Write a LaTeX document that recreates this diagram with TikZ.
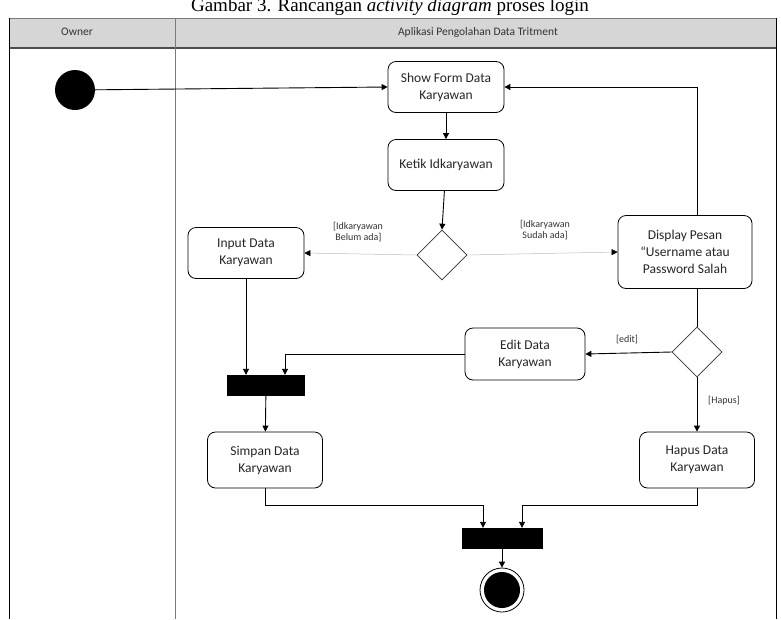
\documentclass[tikz,border=0pt]{standalone}
\usepackage{fontspec}
\setmainfont{Carlito}
\newfontfamily\titlefont{Liberation Serif}
\usetikzlibrary{shapes.geometric,arrows.meta}
\definecolor{headgray}{HTML}{D6D6D6}
\definecolor{framegray}{HTML}{7A7A7A}
\tikzset{
  act/.style={draw=black, line width=0.8pt, rounded corners=8pt, fill=white,
    minimum width=116pt, minimum height=51pt, align=center,
    font=\fontsize{13.5}{17}\selectfont, text=black!85},
  decision/.style={draw=black!80, line width=0.7pt, diamond, aspect=1,
    minimum width=50pt, minimum height=50pt, inner sep=0pt, fill=white},
  bar/.style={fill=black, draw=black, inner sep=0pt},
  flow/.style={line width=0.9pt, -{Triangle[length=6pt,width=6pt]}},
  faintflow/.style={line width=0.5pt, draw=black!25, -{Triangle[length=6pt,width=6pt,fill=black,color=black]}},
  line/.style={line width=0.9pt},
  guard/.style={font=\fontsize{10}{11}\selectfont, align=left, text=black!80},
  lanehead/.style={font=\fontsize{11.5}{13}\selectfont, text=black!80}
}
\begin{document}
\begin{tikzpicture}[x=1pt,y=-1pt]
\useasboundingbox (0,0) rectangle (781,619);
\clip (0,0) rectangle (781,619);
\fill[white] (0,0) rectangle (781,619);

% caption above the swimlanes
\node[font=\titlefont\fontsize{19}{22}\selectfont, anchor=base] (caption) at (390,11)
  {Gambar 3. Rancangan \textit{activity diagram} proses login};

% swimlane frame and headers
\fill[headgray] (9,18) rectangle (776,48);
\draw[framegray, line width=0.8pt] (9,18) -- (776,18);
\draw[black!70, line width=1.6pt] (9,48) -- (776,48);
\draw[black, line width=0.8pt] (9,18) -- (9,619);
\draw[black, line width=0.8pt] (776,18) -- (776,619);
\draw[framegray, line width=0.8pt] (175,18) -- (175,619);
\node[lanehead] (laneA) at (77,32) {Owner};
\node[lanehead] (laneB) at (478,32) {Aplikasi Pengolahan Data Tritment};

% activity nodes
\node[circle, fill=black, minimum size=40pt, inner sep=0pt] (start) at (75,90) {};
\node[act] (show) at (446,87) {Show Form Data\\Karyawan};
\node[act] (ketik) at (446,165) {Ketik Idkaryawan};
\node[decision] (cek) at (442,255) {};
\node[act] (input) at (246,253) {Input Data\\Karyawan};
\node[act, minimum width=134pt, minimum height=73pt] (pesan) at (685,252)
  {Display Pesan\\``Username atau\\Password Salah};
\node[decision] (pilih) at (697,352) {};
\node[act, minimum width=120pt, minimum height=52pt] (edit) at (525,354) {Edit Data\\Karyawan};
\node[bar, minimum width=77pt, minimum height=20pt] (fork1) at (266,385) {};
\node[act, minimum width=115pt, minimum height=56pt] (simpan) at (265,460) {Simpan Data\\Karyawan};
\node[act, minimum width=115pt, minimum height=56pt] (hapus) at (697,460) {Hapus Data\\Karyawan};
\node[bar, minimum width=80pt, minimum height=20pt] (fork2) at (502,538) {};
\node[circle, draw=black, line width=0.8pt, minimum size=44pt, inner sep=0pt] (stop) at (502,590) {};
\node[circle, fill=black, minimum size=36pt, inner sep=0pt] (stopin) at (stop) {};

% guard labels
\node[guard] (gBelum) at (358,232) {[Idkaryawan\\\ Belum ada]};
\node[guard] (gSudah) at (545,230) {[Idkaryawan\\\ Sudah ada]};
\node[guard] (gEdit) at (627,340) {[edit]};
\node[guard] (gHapus) at (724,401) {[Hapus]};

% control flows
\draw[flow] (start) -- (show.west);
\draw[flow] (show) -- (ketik);
\draw[flow] (ketik) -- (cek.north);
\draw[faintflow] (cek.west) -- (input.east);
\draw[faintflow] (cek.east) -- (pesan.west);
\draw[flow] (pesan.north -| pilih.north) |- (show.east);
\draw[line] (pesan.south -| pilih.north) -- (pilih.north);
\draw[flow] (pilih.west) -- (edit.east);
\draw[flow] (pilih.south) -- (hapus.north);
\draw[flow] (input.south) -- (input.south |- fork1.north);
\coordinate (editTurn) at (285,353);
\draw[flow] (edit.west) -- (edit.west -| editTurn) -- (editTurn |- fork1.north);
\draw[flow] (fork1) -- (simpan);
\coordinate (joinL) at (483,505);
\coordinate (joinR) at (522,505);
\draw[flow] (simpan.south) |- (joinL) -- (joinL |- fork2.north);
\draw[flow] (hapus.south) |- (joinR) -- (joinR |- fork2.north);
\draw[flow] (fork2) -- (stop);
\end{tikzpicture}
\end{document}
